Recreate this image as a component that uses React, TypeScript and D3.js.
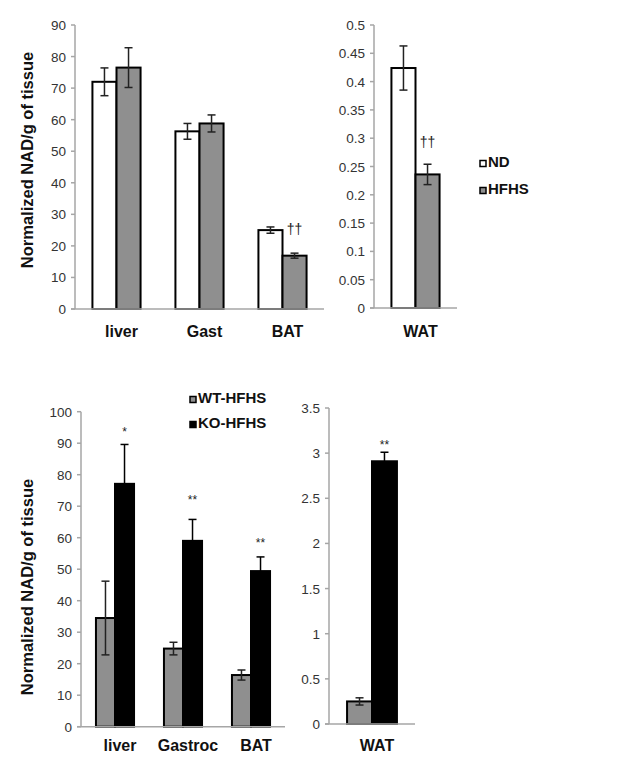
import * as d3 from "d3";

// top panel: ND vs HFHS
const topCats = ["liver", "Gast", "BAT"];
const ndMean = [72, 56.3, 25];
const ndErr = [4.4, 2.5, 1.0];
const hfhsMean = [76.5, 58.8, 16.9];
const hfhsErr = [6.3, 2.7, 0.8];
const topTicks = [0, 10, 20, 30, 40, 50, 60, 70, 80, 90];

const watCats = ["WAT"];
const ndWatMean = [0.424];
const ndWatErr = [0.039];
const hfhsWatMean = [0.236];
const hfhsWatErr = [0.018];
const watTicks = [0, 0.05, 0.1, 0.15, 0.2, 0.25, 0.3, 0.35, 0.4, 0.45, 0.5];

// bottom panel: WT-HFHS vs KO-HFHS
const botCats = ["liver", "Gastroc", "BAT"];
const wtMean = [34.5, 24.8, 16.4];
const wtErr = [11.7, 2.0, 1.6];
const koMean = [77.1, 59.0, 49.4];
const koErr = [12.5, 6.8, 4.5];
const botTicks = [0, 10, 20, 30, 40, 50, 60, 70, 80, 90, 100];

const wtWatMean = [0.25];
const wtWatErr = [0.04];
const koWatMean = [2.91];
const koWatErr = [0.1];
const botWatTicks = [0, 0.5, 1, 1.5, 2, 2.5, 3, 3.5];

// significance marks: [category index, series index, y value, text]
const topMarks: [number, number, number, string][] = [[2, 1, 23.7, "††"]];
const watMarks: [number, number, number, string][] = [[0, 1, 0.284, "††"]];
const botMarks: [number, number, number, string][] = [
  [0, 1, 92.4, "*"],
  [1, 1, 70.8, "**"],
  [2, 1, 57.2, "**"],
];
const botWatMarks: [number, number, number, string][] = [[0, 1, 3.05, "**"]];

const FONT = "Liberation Sans, Arial, sans-serif";
const AXIS = "#a6a6a6";

type Series = { key: string; mean: number[]; err: number[]; fill: string; errColor: string };

function Panel(props: {
  cats: string[];
  series: Series[];
  max: number;
  ticks: number[];
  x0: number;
  x1: number;
  y0: number;
  y1: number;
  pad: number;
  marks: [number, number, number, string][];
  markSize: number;
  labelY: number;
}) {
  const { cats, series, max, ticks, x0, x1, y0, y1, pad, marks, markSize, labelY } = props;
  const y = d3.scaleLinear().domain([0, max]).range([y0, y1]);
  const xb = d3.scaleBand().domain(cats).range([x0, x1]).paddingInner(pad).paddingOuter(pad / 2);
  const xs = d3.scaleBand().domain(series.map((s) => s.key)).range([0, xb.bandwidth()]);
  const bw = xs.bandwidth();
  return (
    <g>
      {series.map((s) =>
        cats.map((c, i) => {
          const bx = (xb(c) as number) + (xs(s.key) as number);
          return (
            <rect
              key={s.key + c}
              x={bx}
              y={y(s.mean[i])}
              width={bw}
              height={y(0) - y(s.mean[i])}
              fill={s.fill}
              stroke="#000"
              strokeWidth={2}
            />
          );
        })
      )}
      {series.map((s) =>
        cats.map((c, i) => {
          const cx = (xb(c) as number) + (xs(s.key) as number) + bw / 2;
          const lo = y(s.mean[i] - s.err[i]);
          const hi = y(s.mean[i] + s.err[i]);
          return (
            <g key={"e" + s.key + c} stroke={s.errColor} strokeWidth={1.5}>
              <line x1={cx} x2={cx} y1={lo} y2={hi} />
              <line x1={cx - 4} x2={cx + 4} y1={hi} y2={hi} />
              <line x1={cx - 4} x2={cx + 4} y1={lo} y2={lo} />
            </g>
          );
        })
      )}
      {/* axes */}
      <line x1={x0} x2={x0} y1={y(max)} y2={y(0)} stroke={AXIS} strokeWidth={1.5} />
      <line x1={x0 - 4} x2={x1} y1={y(0)} y2={y(0)} stroke={AXIS} strokeWidth={1.5} />
      {ticks.map((t) => (
        <g key={t}>
          <line x1={x0 - 4} x2={x0} y1={y(t)} y2={y(t)} stroke={AXIS} strokeWidth={1.5} />
          <text x={x0 - 9} y={y(t) + 5} textAnchor="end" fontSize={13.5} fill="#333" fontFamily={FONT}>
            {String(t)}
          </text>
        </g>
      ))}
      {cats.map((c) => (
        <text
          key={"l" + c}
          x={(xb(c) as number) + xb.bandwidth() / 2 + 5}
          y={labelY}
          textAnchor="middle"
          fontSize={16}
          fontWeight="bold"
          fill="#111"
          fontFamily={FONT}
        >
          {c}
        </text>
      ))}
      {marks.map(([ci, si, v, txt], k) => (
        <text
          key={"m" + k}
          x={(xb(cats[ci]) as number) + (xs(series[si].key) as number) + bw / 2}
          y={y(v)}
          textAnchor="middle"
          fontSize={markSize}
          fill="#222"
          fontFamily={FONT}
        >
          {txt}
        </text>
      ))}
    </g>
  );
}

function Legend(props: { x: number; y: number; gap: number; items: [string, string][] }) {
  return (
    <g>
      {props.items.map(([label, fill], i) => (
        <g key={label}>
          <rect x={props.x} y={props.y + i * props.gap - 6.5} width={6} height={6} fill={fill} stroke="#000" strokeWidth={1.5} />
          <text x={props.x + 8} y={props.y + i * props.gap} fontSize={15} fontWeight="bold" fill="#111" fontFamily={FONT}>
            {label}
          </text>
        </g>
      ))}
    </g>
  );
}

export default function App() {
  const GRAY = "#8f8f8f";
  const topSeries: Series[] = [
    { key: "ND", mean: ndMean, err: ndErr, fill: "#fff", errColor: "#222" },
    { key: "HFHS", mean: hfhsMean, err: hfhsErr, fill: GRAY, errColor: "#222" },
  ];
  const watSeries: Series[] = [
    { key: "ND", mean: ndWatMean, err: ndWatErr, fill: "#fff", errColor: "#222" },
    { key: "HFHS", mean: hfhsWatMean, err: hfhsWatErr, fill: GRAY, errColor: "#222" },
  ];
  const botSeries: Series[] = [
    { key: "WT-HFHS", mean: wtMean, err: wtErr, fill: GRAY, errColor: "#222" },
    { key: "KO-HFHS", mean: koMean, err: koErr, fill: "#000", errColor: "#000" },
  ];
  const botWatSeries: Series[] = [
    { key: "WT-HFHS", mean: wtWatMean, err: wtWatErr, fill: GRAY, errColor: "#222" },
    { key: "KO-HFHS", mean: koWatMean, err: koWatErr, fill: "#000", errColor: "#000" },
  ];
  return (
    <svg width={630} height={761} style={{ position: "absolute", left: 0, top: 0, background: "#fff" }}>
      <rect width={630} height={761} fill="#fff" />
      <Panel cats={topCats} series={topSeries} max={90} ticks={topTicks} x0={75} x1={324} y0={309} y1={25}
        pad={0.42} marks={topMarks} markSize={14} labelY={337} />
      <Panel cats={watCats} series={watSeries} max={0.5} ticks={watTicks} x0={374} x1={457} y0={308} y1={25}
        pad={0.42} marks={watMarks} markSize={14} labelY={337} />
      <Legend x={480} y={167} gap={27} items={[["ND", "#fff"], ["HFHS", GRAY]]} />
      <text transform="translate(33,160) rotate(-90)" textAnchor="middle" fontSize={16.5} fontWeight="bold" fill="#111" fontFamily={FONT}>
        Normalized NAD/g of tissue
      </text>

      <Panel cats={botCats} series={botSeries} max={100} ticks={botTicks} x0={81} x1={285} y0={726.7} y1={411.7}
        pad={0.44} marks={botMarks} markSize={12} labelY={751} />
      <Panel cats={watCats} series={botWatSeries} max={3.5} ticks={botWatTicks} x0={329} x1={415} y0={724} y1={408}
        pad={0.42} marks={botWatMarks} markSize={12} labelY={751} />
      <Legend x={190} y={403} gap={25} items={[["WT-HFHS", GRAY], ["KO-HFHS", "#000"]]} />
      <text transform="translate(33,587) rotate(-90)" textAnchor="middle" fontSize={16.5} fontWeight="bold" fill="#111" fontFamily={FONT}>
        Normalized NAD/g of tissue
      </text>
    </svg>
  );
}
